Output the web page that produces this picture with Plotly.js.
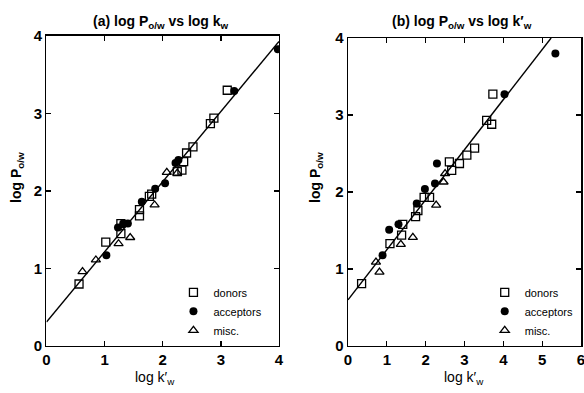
<!DOCTYPE html>
<html>
<head>
<meta charset="utf-8">
<script src="https://cdn.plot.ly/plotly-3.0.1.min.js"></script>
<style>html,body{margin:0;padding:0;background:#fff;}#chart{width:584px;height:393px;}</style>
</head>
<body>
<div id="chart"></div>
<script>
// Panel (a): log P o/w vs log k w
const donorsA_x = [0.56, 1.02, 1.28, 1.28, 1.60, 1.60, 1.77, 1.81, 2.25, 2.33, 2.36, 2.41, 2.52, 2.82, 2.88, 3.11];
const donorsA_y = [0.80, 1.34, 1.45, 1.58, 1.68, 1.76, 1.93, 1.96, 2.25, 2.27, 2.38, 2.49, 2.57, 2.87, 2.94, 3.30];
const acceptorsA_x = [1.03, 1.23, 1.32, 1.40, 1.64, 1.87, 2.04, 2.22, 2.27, 3.23, 3.98];
const acceptorsA_y = [1.17, 1.53, 1.58, 1.58, 1.86, 2.03, 2.10, 2.36, 2.40, 3.29, 3.83];
const miscA_x = [0.62, 0.85, 1.24, 1.44, 1.86, 2.07, 2.25];
const miscA_y = [0.96, 1.11, 1.32, 1.40, 1.82, 2.24, 2.23];
const fitA_x = [0, 4];
const fitA_y = [0.31, 3.93];

// Panel (b): log P o/w vs log k'w
const donorsB_x = [0.35, 1.08, 1.38, 1.41, 1.74, 1.80, 1.96, 2.10, 2.61, 2.67, 2.87, 3.06, 3.26, 3.57, 3.70, 3.73];
const donorsB_y = [0.81, 1.33, 1.44, 1.58, 1.68, 1.76, 1.93, 1.93, 2.39, 2.28, 2.37, 2.48, 2.57, 2.93, 2.88, 3.27];
const acceptorsB_x = [0.89, 1.06, 1.30, 1.77, 1.98, 2.24, 2.29, 4.03, 5.34];
const acceptorsB_y = [1.18, 1.51, 1.58, 1.85, 2.04, 2.11, 2.37, 3.27, 3.80];
const miscB_x = [0.72, 0.81, 1.36, 1.67, 2.27, 2.46, 2.50];
const miscB_y = [1.09, 0.96, 1.32, 1.41, 1.83, 2.13, 2.24];
const fitB_x = [0, 5.23];
const fitB_y = [0.60, 4.00];

const seriesNames = ["donors", "acceptors", "misc."];
const panelTitles = ["(a) log P<sub>o/w</sub> vs log k<sub>w</sub>", "(b) log P<sub>o/w</sub> vs log k′<sub>w</sub>"];
const xTitle = "log k′<sub>w</sub>";
const yTitle = "log P<sub>o/w</sub>";
const xTicksA = [0, 1, 2, 3, 4];
const xTicksB = [0, 1, 2, 3, 4, 5, 6];
const yTicks = [0, 1, 2, 3, 4];

const FONT = "Liberation Sans, Arial, Helvetica, sans-serif";
const sqM = {symbol: "square-open", size: 8, color: "#000", line: {width: 1.3, color: "#000"}};
const ciM = {symbol: "circle", size: 8, color: "#000"};
const trM = {symbol: "triangle-up-open", size: 8, color: "#000", line: {width: 1.3, color: "#000"}};

function panel(dx, dy, fx, fy, xa, ya, leg) {
  return [
    {type: "scatter", mode: "lines", x: fx, y: fy, xaxis: xa, yaxis: ya, showlegend: false, hoverinfo: "skip",
     line: {color: "#000", width: 1.4}},
    {type: "scatter", mode: "markers", x: dx[0], y: dy[0], xaxis: xa, yaxis: ya, name: seriesNames[0], legend: leg, marker: sqM},
    {type: "scatter", mode: "markers", x: dx[1], y: dy[1], xaxis: xa, yaxis: ya, name: seriesNames[1], legend: leg, marker: ciM},
    {type: "scatter", mode: "markers", x: dx[2], y: dy[2], xaxis: xa, yaxis: ya, name: seriesNames[2], legend: leg, marker: trM}
  ];
}

const data = [].concat(
  panel([donorsA_x, acceptorsA_x, miscA_x], [donorsA_y, acceptorsA_y, miscA_y], fitA_x, fitA_y, "x", "y", "legend"),
  panel([donorsB_x, acceptorsB_x, miscB_x], [donorsB_y, acceptorsB_y, miscB_y], fitB_x, fitB_y, "x2", "y2", "legend2")
);

function axis(range, ticks, domain, anchor) {
  return {
    range: range, domain: domain, anchor: anchor, tickvals: ticks, ticktext: ticks.map(String),
    showgrid: false, zeroline: false, showline: true, linecolor: "#000", linewidth: 1.5,
    mirror: "ticks", ticks: "inside", ticklen: 5, tickwidth: 1.3, tickcolor: "#000",
    ticklabeloverflow: "allow",
    tickfont: {family: FONT, size: 15, color: "#000", weight: "bold"}, fixedrange: true
  };
}

const legendBase = {
  bgcolor: "rgba(0,0,0,0)", borderwidth: 0, xanchor: "left", yanchor: "top",
  font: {family: FONT, size: 11, color: "#000"}, tracegroupgap: 0, itemwidth: 30
};

const annFont = {family: FONT, size: 14, color: "#000"};
const layout = {
  width: 584, height: 393,
  margin: {l: 0, r: 0, t: 0, b: 0},
  paper_bgcolor: "#fff", plot_bgcolor: "#fff",
  showlegend: true,
  xaxis: axis([0, 4], xTicksA, [0.0796, 0.4777], "y"),
  yaxis: axis([0, 4], yTicks, [0.1196, 0.9084], "x"),
  xaxis2: axis([0, 6], xTicksB, [0.5959, 0.9949], "y2"),
  yaxis2: axis([0, 4], yTicks, [0.1196, 0.9033], "x2"),
  legend: Object.assign({x: 0.297, y: 0.293}, legendBase),
  legend2: Object.assign({x: 0.83, y: 0.293}, legendBase),
  annotations: [
    {text: panelTitles[0], xref: "paper", yref: "paper", x: 161 / 584, y: 1 - 22 / 393, showarrow: false,
     xanchor: "center", yanchor: "middle", font: Object.assign({}, annFont, {weight: "bold"})},
    {text: panelTitles[1], xref: "paper", yref: "paper", x: 462 / 584, y: 1 - 22 / 393, showarrow: false,
     xanchor: "center", yanchor: "middle", font: Object.assign({}, annFont, {weight: "bold"})},
    {text: xTitle, xref: "paper", yref: "paper", x: 155 / 584, y: 1 - 378 / 393, showarrow: false,
     xanchor: "center", yanchor: "middle", font: annFont},
    {text: xTitle, xref: "paper", yref: "paper", x: 464 / 584, y: 1 - 378 / 393, showarrow: false,
     xanchor: "center", yanchor: "middle", font: annFont},
    {text: yTitle, xref: "paper", yref: "paper", x: 17 / 584, y: 1 - 178 / 393, showarrow: false, textangle: -90,
     xanchor: "center", yanchor: "middle", font: Object.assign({}, annFont, {weight: "bold"})},
    {text: yTitle, xref: "paper", yref: "paper", x: 316 / 584, y: 1 - 178 / 393, showarrow: false, textangle: -90,
     xanchor: "center", yanchor: "middle", font: Object.assign({}, annFont, {weight: "bold"})}
  ]
};

Plotly.newPlot("chart", data, layout, {staticPlot: true, displayModeBar: false});
</script>
</body>
</html>
